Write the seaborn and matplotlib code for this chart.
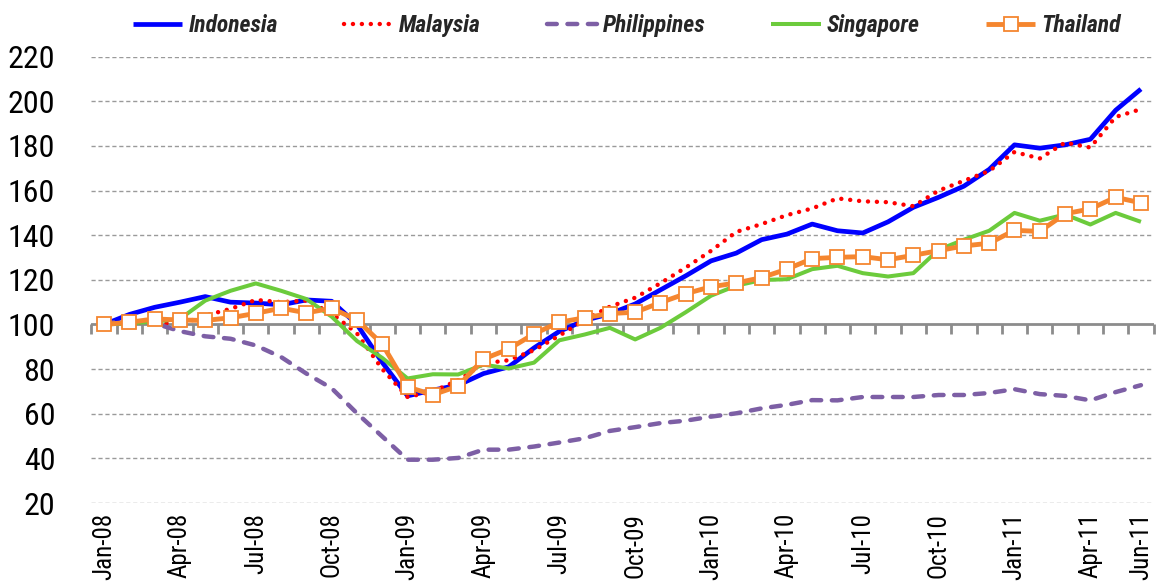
import matplotlib
matplotlib.use("Agg")
import matplotlib.pyplot as plt
import seaborn as sns
import pandas as pd
import numpy as np
from matplotlib import font_manager

months = ["Jan-08","Feb-08","Mar-08","Apr-08","May-08","Jun-08","Jul-08","Aug-08","Sep-08","Oct-08","Nov-08","Dec-08",
          "Jan-09","Feb-09","Mar-09","Apr-09","May-09","Jun-09","Jul-09","Aug-09","Sep-09","Oct-09","Nov-09","Dec-09",
          "Jan-10","Feb-10","Mar-10","Apr-10","May-10","Jun-10","Jul-10","Aug-10","Sep-10","Oct-10","Nov-10","Dec-10",
          "Jan-11","Feb-11","Mar-11","Apr-11","May-11","Jun-11"]

indonesia = [100, 104.5, 107.7, 110, 112.5, 110, 109.6, 108.8, 111, 110.4, 100, 83,
             68, 70.6, 72.8, 78, 81, 89.5, 96.9, 101.8, 104.8, 109.2, 115.5, 121.8,
             128.5, 132, 138, 140.5, 145, 142, 141, 146, 152.5, 157, 162, 169.5,
             180.5, 179, 180.5, 183, 196, 205.5]
malaysia = [100, 101, 101, 100, 104, 107, 111, 110, 110.7, 105, 96, 80,
            67.5, 70, 75, 82.5, 84, 88.5, 95, 102, 108, 112, 118.5, 125.5,
            133, 141.5, 145, 149, 152, 156.5, 155.2, 154.8, 153, 160, 164.4, 168.8,
            177.3, 174.4, 181.5, 179.3, 193, 196.5]
philippines = [100, 102.5, 100.5, 97, 94.7, 93.6, 90.6, 85.4, 78, 71.4, 60.2, 49.8,
               39.4, 39.4, 40.2, 43.9, 43.9, 45.3, 47.1, 49, 52.3, 54, 55.8, 56.9,
               58.7, 60.2, 62.4, 64, 66.1, 66, 67.5, 67.5, 67.5, 68.4, 68.4, 69.3,
               71, 68.8, 68, 66, 69.7, 72.8]
singapore = [100, 100.5, 101.3, 102.5, 110.7, 115.1, 118.4, 115.1, 111.4, 103.5, 92.6, 85,
             75.8, 77.7, 77.6, 82, 80.3, 82.9, 92.9, 95.5, 98.5, 93.3, 98.5, 105.5,
             112.9, 117.4, 119.9, 120.3, 124.8, 126.3, 123, 121.5, 123, 133.5, 138, 142,
             150, 146.5, 149.3, 144.8, 150, 146]
thailand = [100, 101, 102.5, 102, 101.8, 103, 105, 107.3, 105.2, 107.3, 102, 91.2,
            72, 68.5, 72.4, 84.5, 89, 95.8, 101, 103, 104.9, 105.5, 109.8, 113.8,
            116.9, 118.6, 121, 124.8, 129.5, 130.1, 130.4, 129, 131, 133.1, 135.2, 136.4,
            142.2, 141.7, 149.6, 151.8, 157, 154.5]

series_names = ["Indonesia", "Malaysia", "Philippines", "Singapore", "Thailand"]
series_values = [indonesia, malaysia, philippines, singapore, thailand]
tick_labels = ["Jan-08","Apr-08","Jul-08","Oct-08","Jan-09","Apr-09","Jul-09","Oct-09",
               "Jan-10","Apr-10","Jul-10","Oct-10","Jan-11","Apr-11","Jun-11"]
y_ticks = [20, 40, 60, 80, 100, 120, 140, 160, 180, 200, 220]

sns.set_theme(style="white")
names = {f.name for f in font_manager.fontManager.ttflist}
fam = [n for n in ["Liberation Sans Narrow", "Roboto Condensed", "Open Sans Condensed"] if n in names]
plt.rcParams['font.family'] = fam + ['DejaVu Sans']
plt.rcParams['font.stretch'] = 'condensed'

rows = []
for name, vals in zip(series_names, series_values):
    for i, v in enumerate(vals):
        rows.append({"country": name, "idx": i, "month": months[i], "value": v})
df = pd.DataFrame(rows)

fig = plt.figure(figsize=(11.65, 5.87), dpi=100)
ax = fig.add_axes([0.0785, 0.1431, 0.9117, 0.7603])

styles = {
    "Indonesia": dict(color="#0000FF", lw=3.4, ls="-"),
    "Malaysia": dict(color="#FF0000", lw=3.2, ls=(0, (0.01, 2.0))),
    "Philippines": dict(color="#7D5FA5", lw=3.2, ls=(0, (2.2, 2.4))),
    "Singapore": dict(color="#6CCB3C", lw=2.9, ls="-"),
    "Thailand": dict(color="#F5862F", lw=3.5, ls="-"),
}

for name in series_names:
    st = styles[name]
    sub = df[df.country == name]
    kw = {}
    if name == "Thailand":
        kw = dict(marker="s", markersize=10, markerfacecolor="white",
                  markeredgecolor=st["color"], markeredgewidth=1.3)
    sns.lineplot(data=sub, x="idx", y="value", ax=ax, color=st["color"],
                 linewidth=st["lw"], linestyle=st["ls"], label=name, legend=False,
                 dash_capstyle="round", solid_capstyle="butt", **kw)

ax.set_xlim(-0.5, len(months) - 0.5)
ax.set_ylim(20, 220)
ax.set_yticks(y_ticks)
ax.set_yticklabels([str(t) for t in y_ticks], fontsize=23, color="black")
for t in y_ticks:
    if t != 100:
        ax.axhline(t, color="#9a9a9a", lw=1.0, ls=(0, (3, 2)), zorder=0)
ax.axhline(100, color="#8c8c8c", lw=2.0, zorder=1)

tick_pos = [months.index(m) for m in tick_labels]
ax.set_xticks(tick_pos)
ax.set_xticklabels(tick_labels, rotation=90, fontsize=18,
                   va="top", ha="center", color="black")
ax.tick_params(axis="x", length=0, pad=7)
ax.tick_params(axis="y", length=0, pad=26)
ax.set_xlabel("")
ax.set_ylabel("")
for s in ax.spines.values():
    s.set_visible(False)

sec = ax.secondary_xaxis(0.4)
sec.set_xticks(np.arange(len(months) + 1) - 0.5)
sec.set_xticklabels([])
sec.tick_params(axis="x", direction="out", length=7, width=2, color="#8c8c8c")
sec.spines["bottom"].set_visible(False)
sec.spines["top"].set_visible(False)

h, l = ax.get_legend_handles_labels()
leg = fig.legend(h, l, loc="upper center", bbox_to_anchor=(0.538, 1.012), ncol=5,
                 frameon=False, handlelength=2.1, columnspacing=2.8, handletextpad=0.25,
                 prop=dict(family=fam + ['DejaVu Sans'], style="italic", stretch="condensed",
                           weight="bold", size=17))

fig.savefig("out.png", dpi=100)
